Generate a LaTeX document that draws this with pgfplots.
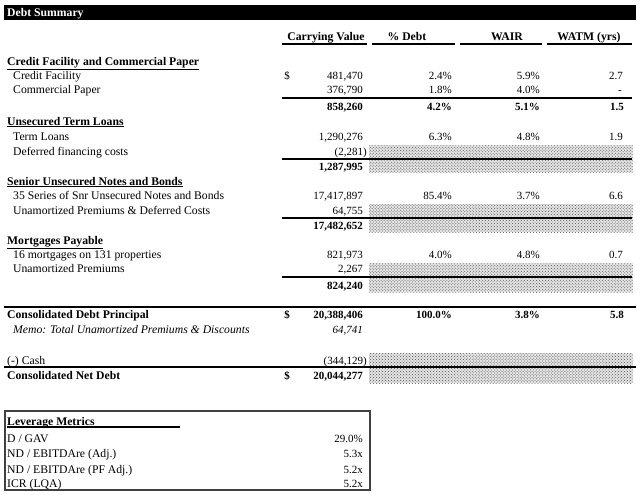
\documentclass[border=0pt]{standalone}
\usepackage{pgfplots}
\pgfplotsset{compat=1.18}
\usepackage{pgfplotstable}
\usepackage{fontspec}
\setmainfont{Liberation Serif}
\usetikzlibrary{patterns}
\tikzset{hatch/.style={fill=black!10, postaction={pattern=crosshatch dots, pattern color=black!70}}}

% x = right edge (px), y = baseline (px from top), label = cell text
\pgfplotstableread{
x y label
290 79 \$
290 318 \textbf{\$}
290 379 \textbf{\$}
}\dollartab

\pgfplotstableread{
x y label
363 79 481,470
363 93 376,790
363 110 \textbf{858,260}
363 140 1,290,276
367 155 (2,281)
363 170 \textbf{1,287,995}
363 199 17,417,897
363 214 64,755
363 229 \textbf{17,482,652}
363 258 821,973
363 272 2,267
363 289 \textbf{824,240}
363 318 \textbf{20,388,406}
363 333 \textit{64,741}
367 364 (344,129)
363 379 \textbf{20,044,277}
}\cvtab

\pgfplotstableread{
x y label
452 79 2.4\%
452 93 1.8\%
452 110 \textbf{4.2\%}
452 140 6.3\%
452 199 85.4\%
452 258 4.0\%
452 318 \textbf{100.0\%}
}\pdtab

\pgfplotstableread{
x y label
540 79 5.9\%
540 93 4.0\%
540 110 \textbf{5.1\%}
540 140 4.8\%
540 199 3.7\%
540 258 4.8\%
540 318 \textbf{3.8\%}
}\wairtab

\pgfplotstableread{
x y label
623 79 2.7
622 93 \mbox{-}
624 110 \textbf{1.5}
623 140 1.9
623 199 6.6
623 258 0.7
624 318 \textbf{5.8}
}\watmtab

\pgfplotstableread{
x y label
363 442 29.0\%
363 457 5.3x
363 473 5.2x
363 487 5.2x
}\levtab

\newcommand{\tf}{\fontsize{11.7bp}{14bp}\selectfont}
\newcommand{\nf}{\fontsize{11bp}{13bp}\selectfont}

\begin{document}
\begin{tikzpicture}
\begin{axis}[
  width=640bp, height=494bp, scale only axis,
  xmin=0, xmax=640, ymin=0, ymax=494, y dir=reverse,
  hide axis, clip=false,
  point meta=explicit symbolic,
  nodes near coords style={anchor=base east, inner sep=0pt, font=\nf, text=black},
  cell/.style={draw=none, mark=none, nodes near coords},
]
\path (axis cs:0,0) rectangle (axis cs:640,494);

% hatched blocks
\path[hatch] (axis cs:369,145) rectangle (axis cs:633,172);
\path[hatch] (axis cs:369,204) rectangle (axis cs:633,232);
\path[hatch] (axis cs:369,263) rectangle (axis cs:633,292);
\path[hatch] (axis cs:369,353) rectangle (axis cs:633,383);

% title bar
\fill[black] (axis cs:4,5) rectangle (axis cs:636,20);
\node[anchor=base west, inner sep=0pt, text=white, font=\tf\bfseries] at (axis cs:7,17) {Debt Summary};

% column headers
\begin{scope}[every node/.style={anchor=base, inner sep=0pt, font=\tf\bfseries}]
\node at (axis cs:326,41) {Carrying Value};
\node at (axis cs:407,41) {\% Debt};
\node at (axis cs:507,41) {WAIR};
\node at (axis cs:589,41) {WATM (yrs)};
\end{scope}
\draw[line width=1.2bp] (axis cs:282,44) -- (axis cs:367,44);
\draw[line width=1.2bp] (axis cs:372,44) -- (axis cs:455,44);
\draw[line width=1.2bp] (axis cs:460,44) -- (axis cs:542,44);
\draw[line width=1.2bp] (axis cs:547,44) -- (axis cs:632,44);

% row labels
\begin{scope}[every node/.style={anchor=base west, inner sep=0pt, font=\tf}]
\node[font=\tf\bfseries] at (axis cs:7,65) {\underline{Credit Facility and Commercial Paper}};
\node at (axis cs:13,79) {Credit Facility};
\node at (axis cs:13,93) {Commercial Paper};
\node[font=\tf\bfseries] at (axis cs:7,125) {\underline{Unsecured Term Loans}};
\node at (axis cs:13,140) {Term Loans};
\node at (axis cs:13,155) {Deferred financing costs};
\node[font=\tf\bfseries] at (axis cs:7,185) {\underline{Senior Unsecured Notes and Bonds}};
\node at (axis cs:13,199) {35 Series of Snr Unsecured Notes and Bonds};
\node at (axis cs:13,214) {Unamortized Premiums \& Deferred Costs};
\node[font=\tf\bfseries] at (axis cs:7,244) {\underline{Mortgages Payable}};
\node at (axis cs:13,258) {16 mortgages on 131 properties};
\node at (axis cs:13,272) {Unamortized Premiums};
\node[font=\tf\bfseries] at (axis cs:7,318) {Consolidated Debt Principal};
\node[font=\tf\itshape] at (axis cs:13,333) {Memo: Total Unamortized Premiums \& Discounts};
\node at (axis cs:7,364) {(-) Cash};
\node[font=\tf\bfseries] at (axis cs:7,379) {Consolidated Net Debt};
\end{scope}

% rules
\draw[line width=1.3bp] (axis cs:282,98) -- (axis cs:632,98);
\draw[line width=1.3bp] (axis cs:282,159) -- (axis cs:632,159);
\draw[line width=1.3bp] (axis cs:282,218) -- (axis cs:632,218);
\draw[line width=1.3bp] (axis cs:282,277) -- (axis cs:632,277);
\draw[line width=1.3bp] (axis cs:4,307) -- (axis cs:636,307);
\draw[line width=1.3bp] (axis cs:4,367) -- (axis cs:636,367);

% data columns
\addplot[cell] table[x=x, y=y, meta=label] {\dollartab};
\addplot[cell] table[x=x, y=y, meta=label] {\cvtab};
\addplot[cell] table[x=x, y=y, meta=label] {\pdtab};
\addplot[cell] table[x=x, y=y, meta=label] {\wairtab};
\addplot[cell] table[x=x, y=y, meta=label] {\watmtab};

% leverage box
\draw[line width=1.4bp, black!75] (axis cs:5,411) rectangle (axis cs:370,490);
\draw[line width=1.2bp] (axis cs:7,427) -- (axis cs:180,427);
\begin{scope}[every node/.style={anchor=base west, inner sep=0pt, font=\tf}]
\node[font=\tf\bfseries] at (axis cs:7,425) {Leverage Metrics};
\node at (axis cs:7,442) {D / GAV};
\node at (axis cs:7,457) {ND / EBITDAre (Adj.)};
\node at (axis cs:7,473) {ND / EBITDAre (PF Adj.)};
\node at (axis cs:7,487) {ICR (LQA)};
\end{scope}
\addplot[cell] table[x=x, y=y, meta=label] {\levtab};
\end{axis}
\end{tikzpicture}
\end{document}
